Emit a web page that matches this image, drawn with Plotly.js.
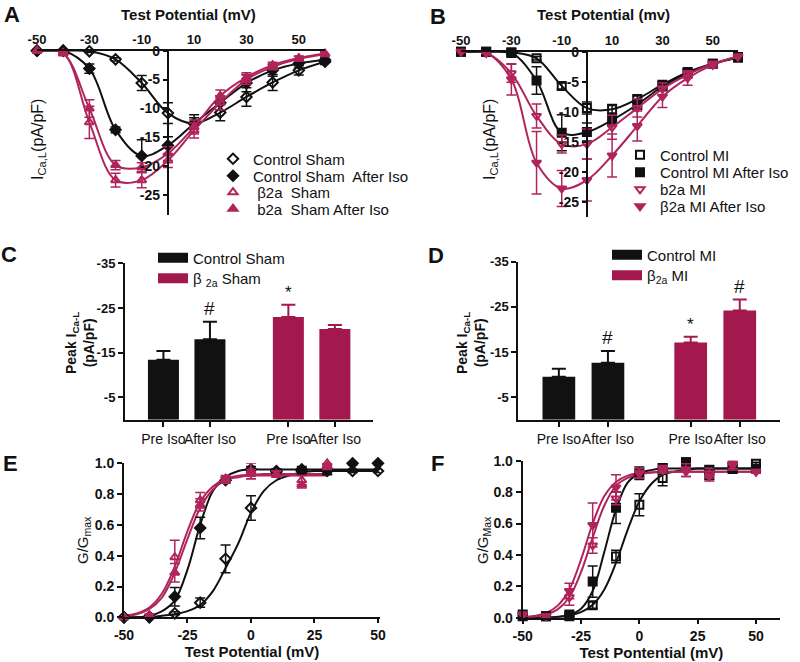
<!DOCTYPE html>
<html>
<head>
<meta charset="utf-8">
<script src="https://cdn.plot.ly/plotly-3.0.1.min.js"></script>
<style>html,body{margin:0;padding:0;background:#fff}#plot{width:800px;height:662px}</style>
</head>
<body>
<div id="plot"></div>
<script>
// ---------------- DATA ----------------
// Panel A & B : I-V relationships (test potential, mV)
const ivVoltage = [-50, -40, -30, -20, -10, 0, 10, 20, 30, 40, 50, 60];

const shamNames = ["Control Sham", "Control Sham  After Iso", " β2a  Sham", " b2a  Sham After Iso"];
const shamCtrl      = [0, 0, -0.1, -1.5, -5.6, -10.8, -12.6, -10.7, -8.0, -5.5, -3.4, -1.9];
const shamCtrlErr   = [0, 0, 0.2, 0.3, 1.3, 1.8, 1.5, 1.4, 1.6, 1.4, 0.8, 0.5];
const shamCtrlIso   = [0, 0, -3.1, -13.7, -18.2, -16.4, -12.6, -9.0, -5.6, -3.4, -2.2, -1.6];
const shamCtrlIsoErr= [0, 0, 0.8, 0.5, 2.8, 1.5, 1.0, 1.2, 1.5, 1.0, 0.8, 0.5];
const shamB2a       = [0, -0.4, -12.4, -22.4, -22.4, -19.0, -13.8, -9.0, -5.0, -2.8, -1.4, -0.6];
const shamB2aErr    = [0, 0.2, 2.8, 1.2, 1.3, 1.2, 1.3, 1.2, 0.8, 0.5, 0.4, 0.3];
const shamB2aIso    = [0, -0.5, -10.0, -19.8, -20.2, -17.8, -13.2, -7.8, -4.6, -2.5, -1.3, -0.5];
const shamB2aIsoErr = [0, 0.2, 1.5, 0.8, 0.8, 1.2, 1.2, 1.0, 0.8, 0.5, 0.4, 0.3];

const miNames = ["Control MI", "Control MI After Iso", "b2a MI", "β2a MI After Iso"];
const miCtrl        = [0, 0, -0.1, -1.1, -5.7, -9.4, -9.6, -7.9, -5.5, -3.4, -2.0, -1.0];
const miCtrlErr     = [0, 0, 0.1, 0.3, 0.5, 1.0, 0.8, 0.5, 0.5, 0.5, 0.4, 0.3];
const miCtrlIso     = [0, 0, -0.2, -4.8, -13.5, -13.4, -11.4, -8.8, -5.8, -3.6, -2.0, -0.9];
const miCtrlIsoErr  = [0, 0, 0.2, 2.3, 3.0, 1.5, 1.0, 0.8, 0.6, 0.5, 0.4, 0.3];
const miB2a         = [0, -0.2, -3.6, -10.7, -15.4, -15.4, -12.6, -9.4, -6.2, -3.8, -2.0, -0.8];
const miB2aErr      = [0, 0.1, 1.5, 2.0, 1.5, 2.5, 2.0, 1.5, 1.0, 0.6, 0.4, 0.3];
const miB2aIso      = [0, -0.2, -4.6, -18.5, -22.8, -21.4, -17.3, -12.4, -7.5, -4.4, -2.2, -0.8];
const miB2aIsoErr   = [0, 0.1, 2.6, 5.2, 3.0, 3.5, 3.6, 2.5, 1.8, 1.2, 0.5, 0.3];

// Panel C & D : peak current bars
const barConditions = ["Pre Iso", "After Iso"];
const shamGroups = ["Control Sham", "β <sub>2a</sub> Sham"];
const shamCtrlPeak = [-13.4, -18.0];
const shamCtrlPeakErr = [2.0, 3.9];
const shamB2aPeak = [-23.0, -20.3];
const shamB2aPeakErr = [2.7, 0.9];
const shamMarks = [["", "#"], ["*", ""]];

const miGroups = ["Control MI", "β<sub>2a</sub> MI"];
const miCtrlPeak = [-9.5, -12.6];
const miCtrlPeakErr = [1.8, 2.6];
const miB2aPeak = [-17.1, -24.2];
const miB2aPeakErr = [1.3, 2.4];
const miMarks = [["", "#"], ["*", "#"]];

// Panel E & F : conductance (G/Gmax), measured points
const gvVoltage = [-50, -40, -30, -20, -10, 0, 10, 20, 30, 40, 50];
const gvVoltageB2a = [-50, -40, -30, -20, -10, 0, 10, 20, 30];
const eCtrl       = [0, 0, 0.026, 0.095, 0.38, 0.71, 0.945, 0.95, 0.95, 0.95, 0.95];
const eCtrlErr    = [0, 0, 0.01, 0.03, 0.09, 0.08, 0.02, 0.02, 0.02, 0.01, 0.01];
const eCtrlIso    = [0, 0.005, 0.134, 0.58, 0.89, 0.96, 0.95, 0.96, 0.96, 1.0, 1.0];
const eCtrlIsoErr = [0, 0, 0.06, 0.07, 0.02, 0.02, 0.01, 0.02, 0.035, 0.01, 0.01];
const eB2a        = [0, 0.01, 0.39, 0.76, 0.90, 0.95, 0.93, 0.89, 1.0];
const eB2aErr     = [0, 0.01, 0.11, 0.05, 0.02, 0.05, 0.02, 0.03, 0.02];
const eB2aIso     = [0, 0.01, 0.29, 0.73, 0.89, 0.93, 0.93, 0.86, 0.98];
const eB2aIsoErr  = [0, 0.01, 0.06, 0.04, 0.02, 0.03, 0.02, 0.02, 0.02];

const fCtrl       = [0.02, 0.01, 0.01, 0.08, 0.39, 0.72, 0.89, 0.99, 0.94, 0.95, 0.98];
const fCtrlErr    = [0, 0, 0.01, 0.02, 0.04, 0.07, 0.05, 0.02, 0.03, 0.03, 0.01];
const fCtrlIso    = [0.01, 0.01, 0.02, 0.23, 0.70, 0.92, 0.95, 0.99, 0.91, 0.96, 0.95];
const fCtrlIsoErr = [0, 0, 0.01, 0.10, 0.10, 0.04, 0.03, 0.02, 0.03, 0.03, 0.01];
const fB2a        = [0.02, 0.01, 0.13, 0.46, 0.76, 0.92, 0.95, 0.93, 0.92, 0.97, 0.93];
const fB2aErr     = [0.01, 0.01, 0.05, 0.05, 0.04, 0.03, 0.02, 0.03, 0.03, 0.03, 0.01];
const fB2aIso     = [0.02, 0.01, 0.17, 0.59, 0.83, 0.92, 0.94, 0.94, 0.90, 0.98, 0.93];
const fB2aIsoErr  = [0.01, 0.01, 0.05, 0.14, 0.08, 0.03, 0.02, 0.04, 0.03, 0.03, 0.01];

// Panel E & F : fitted curves
const fitVoltage = [-50, -45, -40, -35, -30, -25, -20, -15, -10, -5, 0, 5, 10, 15, 20, 25, 30, 35, 40, 45, 50];
const fitVoltageB2aSham = [-50, -45, -40, -35, -30, -25, -20, -15, -10, -5, 0, 5, 10, 15, 20, 25, 30];
const eCtrlFit    = [0, 0, 0, 0.01, 0.02, 0.04, 0.08, 0.17, 0.32, 0.48, 0.68, 0.82, 0.89, 0.92, 0.94, 0.95, 0.95, 0.95, 0.95, 0.95, 0.95];
const eCtrlIsoFit = [0, 0, 0.01, 0.04, 0.11, 0.31, 0.60, 0.82, 0.91, 0.95, 0.96, 0.96, 0.96, 0.96, 0.96, 0.96, 0.96, 0.96, 0.96, 0.96, 0.96];
const eB2aFit     = [0.01, 0.025, 0.064, 0.156, 0.33, 0.56, 0.75, 0.85, 0.90, 0.92, 0.925, 0.93, 0.93, 0.93, 0.93, 0.93, 0.93];
const eB2aIsoFit  = [0.01, 0.02, 0.054, 0.13, 0.29, 0.51, 0.71, 0.83, 0.89, 0.91, 0.92, 0.92, 0.92, 0.92, 0.92, 0.92, 0.92];
const fCtrlFit    = [0, 0, 0, 0.006, 0.014, 0.035, 0.082, 0.18, 0.35, 0.56, 0.74, 0.85, 0.91, 0.93, 0.94, 0.95, 0.95, 0.95, 0.95, 0.95, 0.95];
const fCtrlIsoFit = [0, 0, 0, 0.005, 0.017, 0.057, 0.17, 0.42, 0.69, 0.86, 0.92, 0.94, 0.95, 0.95, 0.95, 0.95, 0.95, 0.95, 0.95, 0.95, 0.95];
const fB2aFit     = [0.003, 0.008, 0.02, 0.053, 0.13, 0.29, 0.51, 0.715, 0.84, 0.89, 0.915, 0.925, 0.93, 0.93, 0.93, 0.93, 0.93, 0.93, 0.93, 0.93, 0.93];
const fB2aIsoFit  = [0.004, 0.011, 0.03, 0.077, 0.18, 0.37, 0.60, 0.775, 0.865, 0.905, 0.92, 0.925, 0.93, 0.93, 0.93, 0.93, 0.93, 0.93, 0.93, 0.93, 0.93];

// ---------------- STYLE / LAYOUT ----------------
const W = 800, H = 662;
const FONT = 'Arial, "Liberation Sans", sans-serif';
const BLACK = '#111111';
const CRIM = '#B0245C';
const BARCRIM = '#A3184D';

function dx(a, b) { return [a / W, b / W]; }
function dy(top, bottom) { return [1 - bottom / H, 1 - top / H]; }

const traces = [];
const legends = {};
let legendCount = 0;
// one single-entry legend per row so that the row spacing can follow the reference
function rowLegend(textX, rowY, size) {
  legendCount += 1;
  const id = legendCount === 1 ? 'legend' : 'legend' + legendCount;
  legends[id] = { visible: true, x: (textX - 40) / W, y: 1 - rowY / H, xanchor: 'left', yanchor: 'middle',
                  bgcolor: 'rgba(0,0,0,0)', borderwidth: 0, font: { family: FONT, size: size, color: BLACK } };
  return id;
}

function lineTrace(xs, ys, color, xa, ya) {
  traces.push({
    type: 'scatter', mode: 'lines', x: xs, y: ys, xaxis: xa, yaxis: ya,
    line: { color: color, width: 2, shape: 'spline', smoothing: 1 },
    showlegend: false, hoverinfo: 'skip'
  });
}
function pointTrace(xs, ys, errs, name, color, symbol, xa, ya, legend) {
  const t = {
    type: 'scatter', mode: 'markers', x: xs, y: ys, name: name, xaxis: xa, yaxis: ya,
    cliponaxis: false,
    marker: { symbol: symbol, size: 8, color: color, line: { color: color, width: 2 } },
    error_y: { type: 'data', array: errs, visible: true, color: color, thickness: 1.5, width: 5 }
  };
  if (legend) { t.legend = legend; t.showlegend = true; } else { t.showlegend = false; }
  traces.push(t);
}
function ivSeries(xs, ys, errs, name, color, symbol, xa, ya, legend) {
  lineTrace(xs, ys, color, xa, ya);
  pointTrace(xs, ys, errs, name, color, symbol, xa, ya, legend);
}

// Panel A
const aRows = [159, 176, 192.5, 209];
ivSeries(ivVoltage, shamCtrl, shamCtrlErr, shamNames[0], BLACK, 'diamond-open', 'x', 'y', rowLegend(253, aRows[0], 15));
ivSeries(ivVoltage, shamCtrlIso, shamCtrlIsoErr, shamNames[1], BLACK, 'diamond', 'x', 'y', rowLegend(253, aRows[1], 15));
ivSeries(ivVoltage, shamB2a, shamB2aErr, shamNames[2], CRIM, 'triangle-up-open', 'x', 'y', rowLegend(253, aRows[2], 15));
ivSeries(ivVoltage, shamB2aIso, shamB2aIsoErr, shamNames[3], CRIM, 'triangle-up', 'x', 'y', rowLegend(253, aRows[3], 15));
// Panel B
const bRows = [155, 172.5, 189.5, 206.5];
ivSeries(ivVoltage, miCtrl, miCtrlErr, miNames[0], BLACK, 'square-open', 'x2', 'y2', rowLegend(660, bRows[0], 15));
ivSeries(ivVoltage, miCtrlIso, miCtrlIsoErr, miNames[1], BLACK, 'square', 'x2', 'y2', rowLegend(660, bRows[1], 15));
ivSeries(ivVoltage, miB2a, miB2aErr, miNames[2], CRIM, 'triangle-down-open', 'x2', 'y2', rowLegend(660, bRows[2], 15));
ivSeries(ivVoltage, miB2aIso, miB2aIsoErr, miNames[3], CRIM, 'triangle-down', 'x2', 'y2', rowLegend(660, bRows[3], 15));

// Bars (C & D): positions derived from group / condition index
const GROUP_STEP = 4.03, COND_STEP = 1.5, OFFSET = 1.24;
function barPos(g) { return barConditions.map((c, i) => OFFSET + g * GROUP_STEP + i * COND_STEP); }
const annotations = [];
function barGroup(g, vals, errs, color, name, xa, ya, legend, marks) {
  const xs = barPos(g);
  traces.push({
    type: 'bar', x: xs, y: vals, width: 1.0, xaxis: xa, yaxis: ya, showlegend: false,
    marker: { color: color, line: { width: 0 } }, hoverinfo: 'skip',
    error_y: { type: 'data', symmetric: false, array: vals.map(() => 0), arrayminus: errs,
               visible: true, color: color, thickness: 2, width: 7 }
  });
  // legend swatch entry
  traces.push({
    type: 'scatter', mode: 'lines', x: [null], y: [null], xaxis: xa, yaxis: ya, name: name,
    legend: legend, showlegend: true, line: { color: color, width: 10 }
  });
  xs.forEach((x, i) => {
    if (marks[i]) {
      annotations.push({ xref: xa, yref: ya, x: x, y: vals[i] - errs[i], text: marks[i],
        showarrow: false, xanchor: 'center', yanchor: 'bottom', yshift: 1,
        font: { family: FONT, size: marks[i] === '#' ? 19 : 17, color: BLACK } });
    }
  });
}
barGroup(0, shamCtrlPeak, shamCtrlPeakErr, BLACK, shamGroups[0], 'x3', 'y3', rowLegend(193, 258, 15), shamMarks[0]);
barGroup(1, shamB2aPeak, shamB2aPeakErr, BARCRIM, shamGroups[1], 'x3', 'y3', rowLegend(193, 278.5, 15), shamMarks[1]);
barGroup(0, miCtrlPeak, miCtrlPeakErr, BLACK, miGroups[0], 'x4', 'y4', rowLegend(647, 255, 15), miMarks[0]);
barGroup(1, miB2aPeak, miB2aPeakErr, BARCRIM, miGroups[1], 'x4', 'y4', rowLegend(647, 275.5, 15), miMarks[1]);

// Panel E
lineTrace(fitVoltage, eCtrlFit, BLACK, 'x5', 'y5');
lineTrace(fitVoltage, eCtrlIsoFit, BLACK, 'x5', 'y5');
lineTrace(fitVoltageB2aSham, eB2aFit, CRIM, 'x5', 'y5');
lineTrace(fitVoltageB2aSham, eB2aIsoFit, CRIM, 'x5', 'y5');
pointTrace(gvVoltage, eCtrl, eCtrlErr, 'Control Sham', BLACK, 'diamond-open', 'x5', 'y5', null);
pointTrace(gvVoltage, eCtrlIso, eCtrlIsoErr, 'Control Sham After Iso', BLACK, 'diamond', 'x5', 'y5', null);
pointTrace(gvVoltageB2a, eB2a, eB2aErr, 'β2a Sham', CRIM, 'triangle-up-open', 'x5', 'y5', null);
pointTrace(gvVoltageB2a, eB2aIso, eB2aIsoErr, 'b2a Sham After Iso', CRIM, 'triangle-up', 'x5', 'y5', null);
// Panel F
lineTrace(fitVoltage, fCtrlFit, BLACK, 'x6', 'y6');
lineTrace(fitVoltage, fCtrlIsoFit, BLACK, 'x6', 'y6');
lineTrace(fitVoltage, fB2aFit, CRIM, 'x6', 'y6');
lineTrace(fitVoltage, fB2aIsoFit, CRIM, 'x6', 'y6');
pointTrace(gvVoltage, fCtrl, fCtrlErr, 'Control MI', BLACK, 'square-open', 'x6', 'y6', null);
pointTrace(gvVoltage, fCtrlIso, fCtrlIsoErr, 'Control MI After Iso', BLACK, 'square', 'x6', 'y6', null);
pointTrace(gvVoltage, fB2a, fB2aErr, 'b2a MI', CRIM, 'triangle-down-open', 'x6', 'y6', null);
pointTrace(gvVoltage, fB2aIso, fB2aIsoErr, 'β2a MI After Iso', CRIM, 'triangle-down', 'x6', 'y6', null);

const tickBold = { family: FONT, size: 13, color: BLACK, weight: 'bold' };
const baseAxis = {
  showgrid: false, zeroline: false, showline: true, linecolor: BLACK, linewidth: 2,
  ticks: 'outside', ticklen: 5, tickwidth: 2, tickcolor: BLACK, tickfont: tickBold, fixedrange: true
};
function ax(extra) { return Object.assign({}, baseAxis, extra); }
function plainTicks(vals) { return { tickvals: vals, ticktext: vals.map(v => String(v)) }; }

const ivXRange = [-50, 60];
const aXDom = dx(37, 325), bXDom = dx(461, 738);
function zeroPos(dom, range) { return dom[0] + (0 - range[0]) / (range[1] - range[0]) * (dom[1] - dom[0]); }
const bold14 = Object.assign({}, tickBold, { size: 14 });
const barTickFont = { family: FONT, size: 14, color: BLACK };
const ivXTicks = [-50, -30, -10, 10, 30, 50];
const ivYTicks = [0, -5, -10, -15, -20, -25];
const barYTicks = [-35, -25, -15, -5];
const gvXTicks = [-50, -25, 0, 25, 50];

const layout = Object.assign({
  width: W, height: H, margin: { l: 0, r: 0, t: 0, b: 0 },
  paper_bgcolor: '#fff', plot_bgcolor: 'rgba(0,0,0,0)',
  font: { family: FONT, color: BLACK },
  showlegend: true,
  // A
  xaxis: ax(Object.assign({ domain: aXDom, range: ivXRange, side: 'top', anchor: 'y', ticks: '' }, plainTicks(ivXTicks))),
  yaxis: ax(Object.assign({ domain: dy(50.7, 215.4), range: [-28.5, 0], anchor: 'free', position: zeroPos(aXDom, ivXRange),
              ticklen: 4, tickfont: bold14 }, plainTicks(ivYTicks))),
  // B
  xaxis2: ax(Object.assign({ domain: bXDom, range: ivXRange, side: 'top', anchor: 'y2', ticks: '' }, plainTicks(ivXTicks))),
  yaxis2: ax(Object.assign({ domain: dy(51.7, 216.7), range: [-27.5, 0], anchor: 'free', position: zeroPos(bXDom, ivXRange),
               ticklen: 4, tickfont: bold14 }, plainTicks(ivYTicks))),
  // C
  xaxis3: ax({ domain: dx(125, 373), range: [0, 8], anchor: 'y3', tickangle: 0,
               tickvals: barPos(0).concat(barPos(1)), ticktext: barConditions.concat(barConditions),
               tickfont: barTickFont }),
  yaxis3: ax(Object.assign({ domain: dy(263.3, 419.7), range: [0, -35], anchor: 'x3' }, plainTicks(barYTicks))),
  // D
  xaxis4: ax({ domain: dx(518.3, 780), range: [0, 8], anchor: 'y4', tickangle: 0,
               tickvals: barPos(0).concat(barPos(1)), ticktext: barConditions.concat(barConditions),
               tickfont: barTickFont }),
  yaxis4: ax(Object.assign({ domain: dy(261.7, 419.7), range: [0, -35], anchor: 'x4' }, plainTicks(barYTicks))),
  // E
  xaxis5: ax(Object.assign({ domain: dx(124, 380), range: [-50, 50.8], anchor: 'y5', ticklen: 4,
               tickfont: bold14,
               title: { text: 'Test Potential (mV)', font: { family: FONT, size: 15, weight: 'bold', color: BLACK }, standoff: 4 } },
               plainTicks(gvXTicks))),
  yaxis5: ax({ domain: dy(463.3, 617.3), range: [0, 1], anchor: 'x5', tickvals: [0, 0.2, 0.4, 0.6, 0.8, 1.0],
               tickformat: '.1f', tickfont: bold14 }),
  // F
  xaxis6: ax(Object.assign({ domain: dx(522.7, 780), range: [-50, 60.3], anchor: 'y6', ticklen: 4,
               tickfont: bold14,
               title: { text: 'Test Pontential (mV)', font: { family: FONT, size: 15, weight: 'bold', color: BLACK }, standoff: 4 } },
               plainTicks(gvXTicks))),
  yaxis6: ax({ domain: dy(460.7, 617.7), range: [0, 1], anchor: 'x6', tickvals: [0, 0.2, 0.4, 0.6, 0.8, 1.0],
               tickformat: '.1f', tickfont: bold14 }),
  annotations: annotations.concat([
    // panel letters
    { text: '<b>A</b>', x: 12, y: 15 },
    { text: '<b>B</b>', x: 438, y: 16 },
    { text: '<b>C</b>', x: 9, y: 254 },
    { text: '<b>D</b>', x: 436, y: 255 },
    { text: '<b>E</b>', x: 10, y: 463 },
    { text: '<b>F</b>', x: 437, y: 463 }
  ].map(a => ({ text: a.text, x: a.x / W, y: 1 - a.y / H, xref: 'paper', yref: 'paper', showarrow: false,
      xanchor: 'center', yanchor: 'middle', font: { family: FONT, size: 22, color: BLACK } })))
  .concat([
    { text: '<b>Test Potential (mV)</b>', x: 188, y: 15, size: 15 },
    { text: '<b>Test Potential (mv)</b>', x: 603, y: 15, size: 15 },
    { text: 'I<sub>Ca,L</sub>(pA/pF)', x: 38, y: 140, size: 16, angle: -90 },
    { text: 'I<sub>Ca,L</sub>(pA/pF)', x: 490, y: 140, size: 16, angle: -90 },
    { text: '<b>Peak I<sub>Ca-L</sub><br>(pA/pF)</b>', x: 80, y: 343, size: 14, angle: -90 },
    { text: '<b>Peak I<sub>Ca-L</sub><br>(pA/pF)</b>', x: 471, y: 343, size: 14, angle: -90 },
    { text: 'G/G<sub>max</sub>', x: 83, y: 540, size: 15, angle: -90 },
    { text: 'G/G<sub>Max</sub>', x: 483, y: 540, size: 15, angle: -90 }
  ].map(a => ({ text: a.text, x: a.x / W, y: 1 - a.y / H, xref: 'paper', yref: 'paper', showarrow: false,
      xanchor: 'center', yanchor: 'middle',
      textangle: a.angle || 0, font: { family: FONT, size: a.size, color: BLACK } })))
}, legends);

Plotly.newPlot('plot', traces, layout, { staticPlot: true, displayModeBar: false });
</script>
</body>
</html>
